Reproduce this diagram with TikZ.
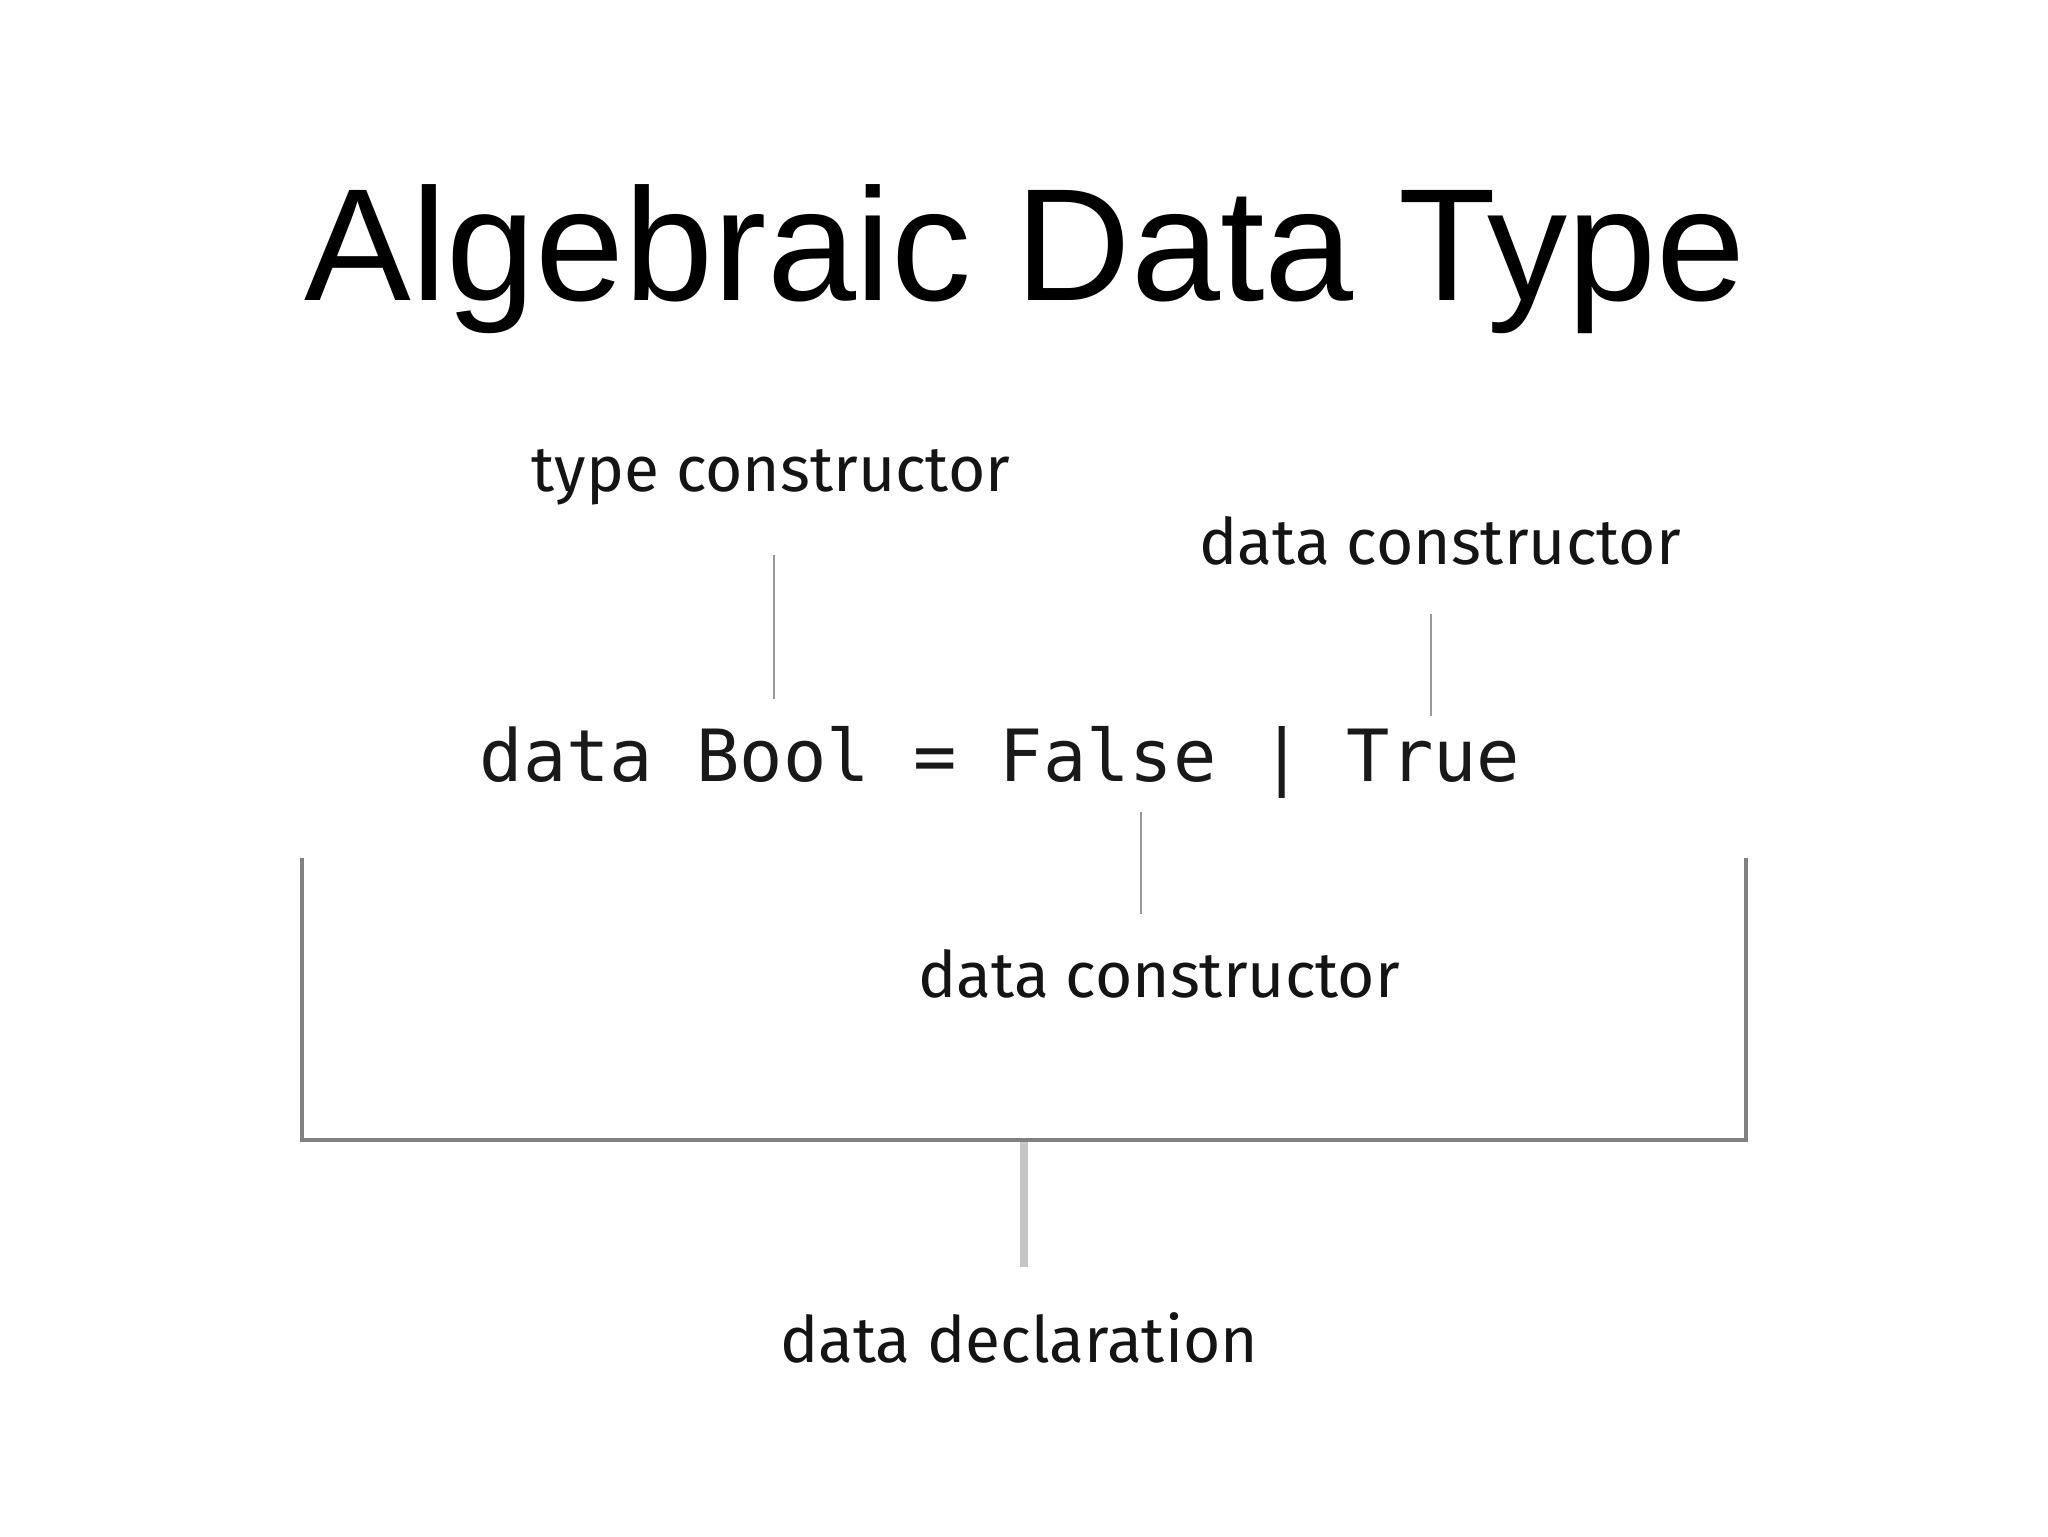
\documentclass[tikz,border=0pt]{standalone}
\usepackage{fontspec}
\setmainfont{Liberation Sans}
\newfontfamily\labelfont{Fira Sans}
\newfontfamily\codefont{DejaVu Sans Mono}
\begin{document}
\begin{tikzpicture}[x=0.5pt,y=-0.5pt,
  lbl/.style={inner sep=0pt,anchor=base,font=\labelfont\fontsize{32}{38}\selectfont,text=black!92},
  thin/.style={draw=black!40,line width=1pt},
  brk/.style={draw=black!50,line width=2pt},
  stemline/.style={draw=black!22,line width=4pt}]
\useasboundingbox (0,0) rectangle (2048,1536);
\node[inner sep=0pt,anchor=base,font=\fontsize{80}{96}\selectfont] (title) at (1025,300) {Algebraic Data Type};
\node[lbl] (tc) at (771,491) {type constructor};
\node[lbl] (dc1) at (1440,564) {data constructor};
\node[inner sep=0pt,anchor=base,font=\codefont\fontsize{36}{42}\selectfont,text=black!90] (code) at (1000,781) {data Bool = False | True};
\node[lbl] (dc2) at (1159,997) {data constructor};
\node[lbl] (dd) at (1019,1362) {data declaration};
\coordinate (l1a) at (774,555); \coordinate (l1b) at (774,699);
\coordinate (l2a) at (1431,614); \coordinate (l2b) at (1431,716);
\coordinate (l3a) at (1141,812); \coordinate (l3b) at (1141,914);
\coordinate (bl) at (302,858); \coordinate (blc) at (302,1140);
\coordinate (brc) at (1746,1140); \coordinate (br) at (1746,858);
\coordinate (sa) at (1024,1142); \coordinate (sb) at (1024,1267);
\draw[thin] (l1a) -- (l1b);
\draw[thin] (l2a) -- (l2b);
\draw[thin] (l3a) -- (l3b);
\draw[stemline] (sa) -- (sb);
\draw[brk] (bl) -- (blc) -- (brc) -- (br);
\end{tikzpicture}
\end{document}
